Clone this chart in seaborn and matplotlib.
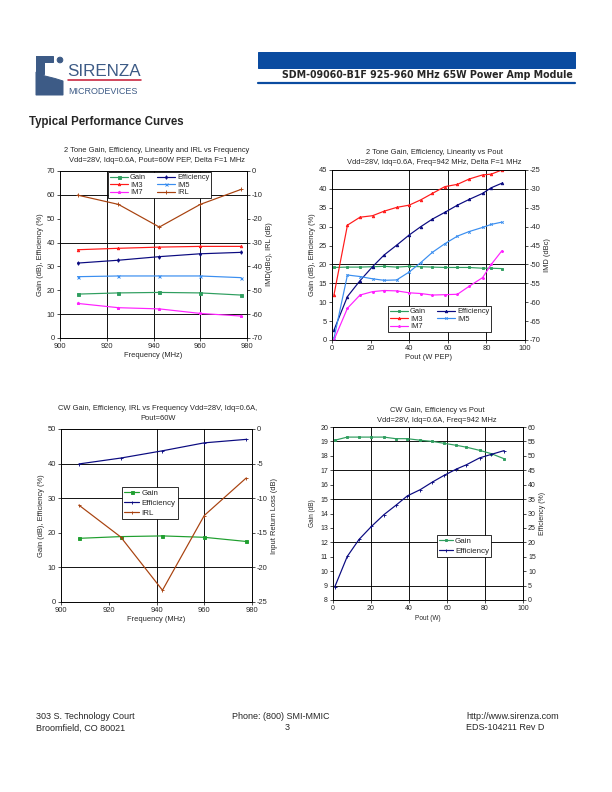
import seaborn as sns
import matplotlib.pyplot as plt
from matplotlib.patches import Rectangle, Polygon, Circle

# ---- 2 tone vs frequency ----
freq_2t = [907.5, 925, 942.5, 960, 977.5]
gain_2t = [18.4, 18.9, 19.1, 18.9, 18.0]
eff_2t = [31.4, 32.6, 34.1, 35.3, 35.9]
im3_2t = [-33.0, -32.4, -31.9, -31.6, -31.6]
im5_2t = [-44.3, -44.0, -44.0, -44.0, -44.7]
im7_2t = [-55.5, -57.3, -57.8, -59.7, -60.8]
irl_2t = [-10.1, -14.0, -23.5, -14.0, -7.7]

# ---- 2 tone vs pout ----
pout_2t = [1, 8, 14.5, 21, 27, 33.5, 40, 46, 52, 58.5, 65, 71, 78, 82.5, 88]
gain_p = [19.2, 19.3, 19.3, 19.4, 19.5, 19.3, 19.5, 19.4, 19.3, 19.2, 19.2, 19.2, 19.0, 19.0, 18.9]
eff_p = [2.6, 11.5, 15.7, 19.4, 22.5, 25.1, 27.8, 30.0, 32.0, 33.8, 35.7, 37.2, 38.8, 40.3, 41.5]
im3_p = [-58.1, -39.6, -37.5, -37.1, -35.9, -34.9, -34.3, -32.9, -31.2, -29.4, -28.8, -27.4, -26.3, -26.1, -25.0]
im5_p = [-69.6, -52.8, -53.2, -53.8, -54.2, -54.1, -52.0, -49.5, -46.8, -44.5, -42.5, -41.3, -40.2, -39.4, -38.8]
im7_p = [-70.0, -61.6, -58.1, -57.2, -56.9, -57.0, -57.5, -57.7, -58.1, -58.0, -57.9, -55.8, -53.5, -50.0, -46.4]

# ---- CW vs frequency ----
freq_cw = [907.5, 925, 942.5, 960, 977.5]
gain_cw = [18.4, 18.9, 19.1, 18.7, 17.5]
eff_cw = [39.9, 41.6, 43.7, 46.0, 47.0]
irl_cw = [-11.0, -15.6, -23.3, -12.5, -7.1]

# ---- CW vs pout ----
pout_cw = [0.9, 7.5, 13.7, 20.2, 26.8, 33, 39.1, 46, 52.3, 58.4, 64.9, 70.2, 77.2, 83.3, 90.0]
gain_cwp = [19.08, 19.3, 19.3, 19.3, 19.3, 19.19, 19.19, 19.08, 19.0, 18.87, 18.73, 18.6, 18.38, 18.15, 17.8]
eff_cwp = [4.5, 15.1, 21.0, 25.5, 29.6, 32.8, 36.1, 38.3, 40.9, 43.2, 45.4, 46.9, 49.3, 50.5, 51.8]

sns.set_style("ticks")
plt.rcParams['font.family'] = ['Liberation Sans', 'DejaVu Sans']
plt.rcParams['axes.unicode_minus'] = False

W, H = 612, 792
fig = plt.figure(figsize=(W / 72, H / 72), dpi=72)

# page overlay in pixel coordinates
ov = fig.add_axes([0, 0, 1, 1])
ov.set_xlim(0, W)
ov.set_ylim(H, 0)
ov.axis('off')


def rect(x0, y0, x1, y1):
    return [x0 / W, 1 - y1 / H, (x1 - x0) / W, (y1 - y0) / H]


GREEN = '#2F9E5F'
NAVY = '#0A0A80'
RED = '#FF1A1A'
BLUE = '#3A8EF0'
MAG = '#FF22FF'
BROWN = '#A8420F'
TFS = 7.5  # tick font size
LFS = 7.5  # axis label font size


def add_line(ax, x, y, color, marker, ms=3):
    sns.lineplot(x=x, y=y, ax=ax, color=color, marker=marker, markersize=ms,
                 markeredgecolor=color, markerfacecolor=color, markeredgewidth=0.9,
                 linewidth=1.2, legend=False)
    return ax.lines[-1]


def style(ax, ax2, fs=TFS):
    for a in (ax, ax2):
        for s in a.spines.values():
            s.set_color('black')
            s.set_linewidth(0.8)
        a.tick_params(labelsize=fs, length=3, width=0.8, pad=2)


def grid(ax, hs, vs):
    for v in hs:
        ax.axhline(v, color='black', lw=0.9, zorder=0.5)
    for v in vs:
        ax.axvline(v, color='black', lw=0.9, zorder=0.5)


def legend(ax2, handles, labels, x, y, ncol, fs=7.5, spacing=0.05, hl=2.4):
    leg = ax2.legend(handles, labels, ncol=ncol, loc='upper left',
                     bbox_to_anchor=(x / W, 1 - y / H), bbox_transform=fig.transFigure,
                     fontsize=fs, frameon=True, fancybox=False, framealpha=1,
                     edgecolor='black', borderpad=0.25, labelspacing=spacing,
                     handlelength=hl, handletextpad=0.3, columnspacing=1.4,
                     borderaxespad=0)
    leg.get_frame().set_linewidth(0.8)


def title(x, y, s):
    ov.text(x, y, s, ha='center', va='center', fontsize=7.5, linespacing=1.45)


# ---------- chart 1 ----------
ax = fig.add_axes(rect(60, 171, 247, 338))
ax2 = ax.twinx()
h_gain = add_line(ax, freq_2t, gain_2t, GREEN, 's')
h_eff = add_line(ax, freq_2t, eff_2t, NAVY, 'd', 2.5)
h_im3 = add_line(ax2, freq_2t, im3_2t, RED, '^', 2.5)
h_im5 = add_line(ax2, freq_2t, im5_2t, BLUE, 'x')
h_im7 = add_line(ax2, freq_2t, im7_2t, MAG, '*')
h_irl = add_line(ax2, freq_2t, irl_2t, BROWN, '+', 4)
ax.set_xlim(900, 980)
ax.set_ylim(0, 70)
ax2.set_ylim(-70, 0)
ax.set_xticks(range(900, 981, 20))
ax.set_yticks(range(0, 71, 10))
ax2.set_yticks(range(-70, 1, 10))
grid(ax, [10, 40, 60], [920, 940, 960])
style(ax, ax2)
ax.set_xlabel('Frequency (MHz)', fontsize=LFS, labelpad=2)
ax.set_ylabel('Gain (dB), Efficiency (%)', fontsize=LFS, labelpad=3)
ax2.set_ylabel('IMD(dBc), IRL (dB)', fontsize=LFS, labelpad=3)
legend(ax2, [h_gain, h_im3, h_im7, h_eff, h_im5, h_irl],
       ['Gain', 'IM3', 'IM7', 'Efficiency', 'IM5', 'IRL'], 108, 172, 2)
title(157, 155.5, '2 Tone Gain, Efficiency, Linearity and IRL vs Frequency\n'
      'Vdd=28V, Idq=0.6A, Pout=60W PEP, Delta F=1 MHz')

# ---------- chart 2 ----------
ax = fig.add_axes(rect(332, 170, 525, 340))
ax2 = ax.twinx()
h_gain = add_line(ax, pout_2t, gain_p, GREEN, 's', 2.5)
h_eff = add_line(ax, pout_2t, eff_p, NAVY, '^', 2.5)
h_im3 = add_line(ax2, pout_2t, im3_p, RED, '^', 2.5)
h_im5 = add_line(ax2, pout_2t, im5_p, BLUE, 'x', 2.5)
h_im7 = add_line(ax2, pout_2t, im7_p, MAG, '*', 2.5)
ax.set_xlim(0, 100)
ax.set_ylim(0, 45)
ax2.set_ylim(-70, -25)
ax.set_xticks(range(0, 101, 20))
ax.set_yticks(range(0, 46, 5))
ax2.set_yticks(range(-70, -24, 5))
grid(ax, [15, 20, 40], [40, 60, 80])
style(ax, ax2)
ax.set_xlabel('Pout (W PEP)', fontsize=LFS, labelpad=2)
ax.set_ylabel('Gain (dB), Efficiency (%)', fontsize=LFS, labelpad=3)
ax2.set_ylabel('IMD (dBc)', fontsize=LFS, labelpad=3)
legend(ax2, [h_gain, h_im3, h_im7, h_eff, h_im5],
       ['Gain', 'IM3', 'IM7', 'Efficiency', 'IM5'], 388, 306, 2)
title(434, 157.5, '2 Tone Gain, Efficiency, Linearity vs Pout\n'
      'Vdd=28V, Idq=0.6A, Freq=942 MHz, Delta F=1 MHz')

# ---------- chart 3 ----------
ax = fig.add_axes(rect(61, 429, 252, 602))
ax2 = ax.twinx()
h_gain = add_line(ax, freq_cw, gain_cw, '#1F9F2F', 's')
h_eff = add_line(ax, freq_cw, eff_cw, NAVY, '+', 3)
h_irl = add_line(ax2, freq_cw, irl_cw, BROWN, '+', 3)
ax.set_xlim(900, 980)
ax.set_ylim(0, 50)
ax2.set_ylim(-25, 0)
ax.set_xticks(range(900, 981, 20))
ax.set_yticks(range(0, 51, 10))
ax2.set_yticks(range(-25, 1, 5))
grid(ax, [10, 30, 40], [940, 960])
style(ax, ax2)
ax.set_xlabel('Frequency (MHz)', fontsize=LFS, labelpad=2)
ax.set_ylabel('Gain (dB), Efficiency (%)', fontsize=LFS, labelpad=3)
ax2.set_ylabel('Input Return Loss (dB)', fontsize=LFS, labelpad=3)
legend(ax2, [h_gain, h_eff, h_irl], ['Gain', 'Efficiency', 'IRL'], 122, 487, 1,
       fs=8, spacing=0.3, hl=1.9)
title(158, 413.5, 'CW Gain, Efficiency, IRL vs Frequency Vdd=28V, Idq=0.6A,\nPout=60W')

# ---------- chart 4 ----------
ax = fig.add_axes(rect(333, 427, 523, 600))
ax2 = ax.twinx()
h_gain = add_line(ax, pout_cw, gain_cwp, GREEN, 's', 2.5)
h_eff = add_line(ax2, pout_cw, eff_cwp, NAVY, '+', 3)
ax.set_xlim(0, 100)
ax.set_ylim(8, 20)
ax2.set_ylim(0, 60)
ax.set_xticks(range(0, 101, 20))
ax.set_yticks(range(8, 21, 1))
ax2.set_yticks(range(0, 61, 5))
grid(ax, [9, 12, 15, 17, 19], [20, 40, 60, 80])
style(ax, ax2, fs=7)
ax.set_xlabel('Pout (W)', fontsize=6.5, labelpad=3)
ax.set_ylabel('Gain (dB)', fontsize=6.5, labelpad=4)
ax2.set_ylabel('Efficiency (%)', fontsize=7, labelpad=3)
legend(ax2, [h_gain, h_eff], ['Gain', 'Efficiency'], 437, 535, 1,
       fs=8, spacing=0.3, hl=1.7)
title(437, 415.5, 'CW Gain, Efficiency vs Pout\nVdd=28V, Idq=0.6A, Freq=942 MHz')

# ---------- page furniture ----------
SLATE = '#3D5B86'
ov.add_patch(Rectangle((36, 55.5), 17, 6.5, color=SLATE))
ov.add_patch(Rectangle((36, 55.5), 7.5, 18, color=SLATE))
ov.add_patch(Polygon([(36, 72), (45, 76), (55, 78.5), (63, 81), (63, 95), (36, 95)],
                     closed=True, color=SLATE))
ov.add_patch(Circle((60, 60), 2.8, color=SLATE))
ov.text(67, 76, 'SIRENZA', fontsize=17, color=SLATE, ha='left', va='baseline')
ov.plot([68, 141], [80, 80], color='#C8203A', lw=1.6)
ov.text(68, 94, 'MICRODEVICES', fontsize=9, color=SLATE, ha='left', va='baseline')

ov.add_patch(Rectangle((258, 52), 317, 16, color='#0A4BA0'))
ov.plot([258, 575], [83, 83], color='#0A4BA0', lw=2.2)
ov.text(573, 75.5, 'SDM-09060-B1F 925-960 MHz 65W Power Amp Module', ha='right', va='center',
        fontsize=9.5, fontweight='bold', family=['DejaVu Sans'])

ov.text(29, 122, 'Typical Performance Curves', ha='left', va='center',
        fontsize=11.5, fontweight='bold')

ov.text(36, 716.5, '303 S. Technology Court', fontsize=9, va='center')
ov.text(36, 728, 'Broomfield, CO 80021', fontsize=9, va='center')
ov.text(281, 716.5, 'Phone: (800) SMI-MMIC', fontsize=9, va='center', ha='center')
ov.text(287, 728, '3', fontsize=9, va='center', ha='center')
ov.text(466, 716.5, 'http://www.sirenza.com', fontsize=9, va='center')
ov.text(466, 728, 'EDS-104211 Rev D', fontsize=9, va='center')

plt.savefig('out.png', dpi=72)
